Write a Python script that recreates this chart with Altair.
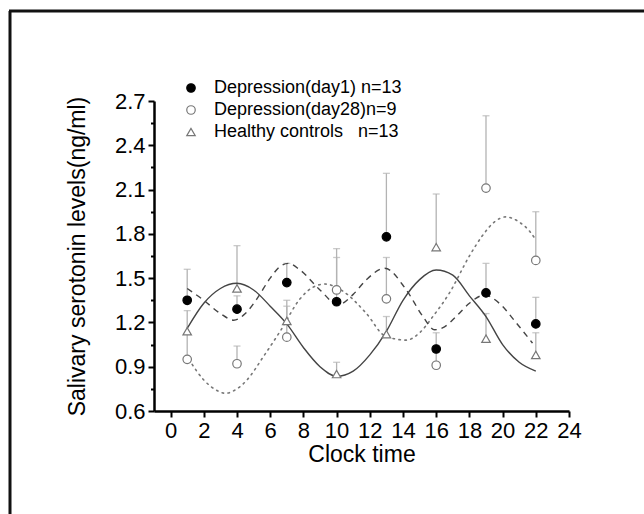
import altair as alt
import pandas as pd

# ---- data ----
hours = [1, 4, 7, 10, 13, 16, 19, 22]
series_names = ["Depression(day1) n=13", "Depression(day28)n=9",
                "Healthy controls\u00a0\u00a0\u00a0n=13"]

day1_mean = [1.35, 1.29, 1.47, 1.34, 1.78, 1.02, 1.40, 1.19]
day1_upper = [1.56, 1.38, 1.60, 1.64, 2.21, 1.13, 1.60, 1.37]
day28_mean = [0.95, 0.92, 1.10, 1.42, 1.36, 0.91, 2.11, 1.62]
day28_upper = [1.12, 1.04, 1.31, 1.70, 1.64, 1.00, 2.60, 1.95]
healthy_mean = [1.14, 1.43, 1.21, 0.85, 1.12, 1.71, 1.09, 0.98]
healthy_upper = [1.28, 1.72, 1.35, 0.93, 1.24, 2.07, 1.26, 1.13]

# fitted curves
healthy_fit_x = [1, 2, 3, 4, 5, 6, 7, 8, 9, 10, 11, 12, 13, 14, 15, 16, 17, 18, 19, 20, 21, 22]
healthy_fit_y = [1.16, 1.33, 1.43, 1.465, 1.42, 1.31, 1.19, 1.03, 0.90, 0.835, 0.87, 0.98,
                 1.14, 1.35, 1.49, 1.555, 1.52, 1.38, 1.24, 1.05, 0.93, 0.87]
day1_fit_x = [1, 2, 3, 3.8, 4.5, 5.2, 6, 6.6, 7.1, 7.8, 9, 10.1, 11, 11.8, 12.9, 14.2,
              15.2, 15.9, 16.5, 17.2, 18, 18.9, 19.8, 20.8, 21.8]
day1_fit_y = [1.43, 1.35, 1.26, 1.215, 1.26, 1.36, 1.50, 1.58, 1.60, 1.555, 1.42, 1.32,
              1.39, 1.49, 1.567, 1.42, 1.24, 1.15, 1.17, 1.24, 1.33, 1.385, 1.33, 1.20, 1.06]
day28_fit_x = [1.1, 2, 2.7, 3.3, 4, 4.6, 5.6, 6.6, 7.8, 8.6, 9.3, 10.4, 11.8, 12.9, 14.2,
               15, 15.8, 16.8, 18, 18.8, 19.5, 20.2, 21, 21.65, 22]
day28_fit_y = [0.95, 0.81, 0.745, 0.72, 0.75, 0.81, 0.97, 1.14, 1.36, 1.44, 1.46, 1.41,
               1.26, 1.11, 1.08, 1.13, 1.24, 1.40, 1.65, 1.79, 1.88, 1.915, 1.88, 1.815, 1.76]

x_ticks = list(range(0, 25, 2))
y_ticks = [0.6, 0.75, 0.9, 1.05, 1.2, 1.35, 1.5, 1.65, 1.8, 1.95, 2.1, 2.25, 2.4, 2.55, 2.7]

# ---- tables ----
rows = []
for name, means, ups in zip(series_names,
                            [day1_mean, day28_mean, healthy_mean],
                            [day1_upper, day28_upper, healthy_upper]):
    for h, m, u in zip(hours, means, ups):
        rows.append({"hour": h, "value": m, "upper": u, "series": name})
pts = pd.DataFrame(rows)

fit_healthy = pd.DataFrame({"hour": healthy_fit_x, "value": healthy_fit_y})
fit_day1 = pd.DataFrame({"hour": day1_fit_x, "value": day1_fit_y})
fit_day28 = pd.DataFrame({"hour": day28_fit_x, "value": day28_fit_y})

FONT = "Liberation Sans"
xs = alt.Scale(domain=[-1, 24], nice=False, zero=False)
ys = alt.Scale(domain=[0.6, 2.7], nice=False, zero=False)

x_axis = alt.Axis(values=x_ticks, title="Clock time", format="d",
                  labelOverlap=False, labelFlush=False, titlePadding=2)
major_test = "round(datum.value*100) % 30 == 0"
y_axis = alt.Axis(
    values=y_ticks,
    labelExpr=f"{major_test} ? format(datum.value, '.1f') : ''",
    labelOverlap=False, labelFlush=False,
    tickSize={"condition": {"test": major_test, "value": 6}, "value": 3.5},
    title="Salivary serotonin levels(ng/ml)", titlePadding=25,
)


def X():
    return alt.X("hour:Q", scale=xs, axis=x_axis)


def Y(field="value"):
    return alt.Y(f"{field}:Q", scale=ys, axis=y_axis)


err_color = "#b3b3b3"
errbars = alt.Chart(pts).mark_rule(color=err_color, strokeWidth=1.3).encode(
    x=X(), y=Y(), y2="upper:Q")
caps = alt.Chart(pts).mark_tick(orient="horizontal", color=err_color,
                                thickness=1.3, size=7).encode(x=X(), y=Y("upper"))

line_healthy = alt.Chart(fit_healthy).mark_line(
    color="#444444", strokeWidth=1.4, interpolate="monotone").encode(x=X(), y=Y())
line_day1 = alt.Chart(fit_day1).mark_line(
    color="#444444", strokeWidth=1.4, strokeDash=[6, 5], interpolate="monotone").encode(
    x=X(), y=Y())
line_day28 = alt.Chart(fit_day28).mark_line(
    color="#777777", strokeWidth=1.6, strokeDash=[1.5, 4.5], strokeCap="round",
    interpolate="monotone").encode(x=X(), y=Y())

points = alt.Chart(pts).mark_point(opacity=1, fillOpacity=1, strokeWidth=1.2).encode(
    x=X(), y=Y(),
    shape=alt.Shape("series:N", scale=alt.Scale(domain=series_names,
                    range=["circle", "circle", "triangle-up"]), title=None),
    fill=alt.Fill("series:N", scale=alt.Scale(domain=series_names,
                  range=["#000000", "#ffffff", "#ffffff"]), title=None),
    stroke=alt.Stroke("series:N", scale=alt.Scale(domain=series_names,
                      range=["#000000", "#777777", "#777777"]), title=None),
    size=alt.Size("series:N", scale=alt.Scale(domain=series_names,
                  range=[72, 72, 115]), title=None),
)

frame_df = pd.DataFrame({"k": [0]})
frame_left = alt.Chart(frame_df).mark_rule(color="#111111", strokeWidth=3).encode(
    x=alt.value(-144), y=alt.value(-90), y2=alt.value(413))
frame_top = alt.Chart(frame_df).mark_rule(color="#111111", strokeWidth=3).encode(
    x=alt.value(-145), x2=alt.value(490), y=alt.value(-90))

chart = alt.layer(
    errbars, caps, line_day28, line_day1, line_healthy, points,
    frame_left, frame_top
).properties(
    width=415, height=310,
    autosize=alt.AutoSizeParams(type="none"),
    padding={"left": 154, "top": 101, "right": 75, "bottom": 103},
    background="white",
).configure_view(stroke=None).configure_axis(
    domainColor="black", domainWidth=2.5, tickColor="black", tickWidth=2,
    tickSize=6, labelFont=FONT, labelFontSize=22, labelColor="black",
    titleFont=FONT, titleFontSize=23, titleFontWeight="normal", titleColor="black",
    grid=False, labelPadding=3,
).configure_legend(
    orient="none", legendX=28, legendY=-22, labelFont=FONT, labelFontSize=18,
    labelColor="black", symbolStrokeWidth=1.2, rowPadding=4,
    labelOffset=14, padding=0, symbolOpacity=1, labelLimit=0,
)

chart.save("out.html", embed_options={"renderer": "svg", "actions": False})
